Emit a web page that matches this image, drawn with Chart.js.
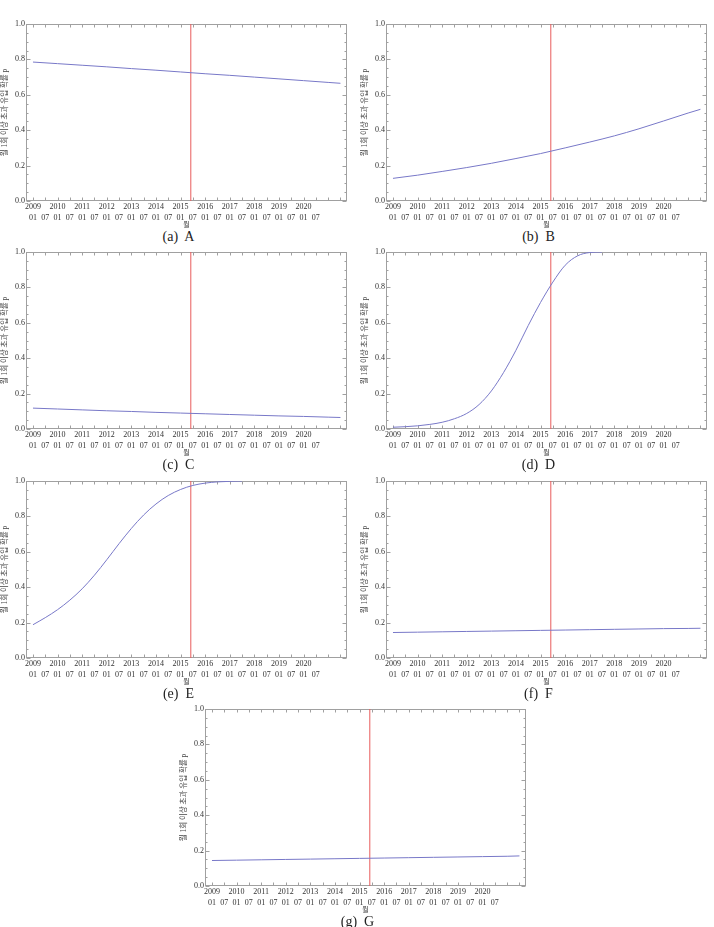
<!DOCTYPE html>
<html>
<head>
<meta charset="utf-8">
<script src="https://cdn.jsdelivr.net/npm/chart.js@4"></script>
<style>
  body { margin: 0; background: #fff; width: 714px; height: 927px; position: relative; overflow: hidden; }
  .panel { position: absolute; width: 357px; height: 250px; }
  .panel canvas { display: block; }
  .cap { position: absolute; left: 0; width: 357px; text-align: center; font-family: 'Liberation Serif', serif; font-size: 14px; color: #222; white-space: pre; line-height: 15px; }
</style>
</head>
<body>
<script>
// x values are months counted from 2009-01
const yearMonths = [0, 12, 24, 36, 48, 60, 72, 84, 96, 108, 120, 132, 144, 150];
const halfYearMonths = [0, 6, 12, 18, 24, 30, 36, 42, 48, 54, 60, 66, 72, 78, 84, 90, 96, 102];

const seriesA = [0.785, 0.776, 0.767, 0.758, 0.748, 0.739, 0.729, 0.719, 0.710, 0.700, 0.690, 0.680, 0.670, 0.665];
const seriesB = [0.128, 0.146, 0.167, 0.189, 0.213, 0.240, 0.268, 0.300, 0.333, 0.368, 0.408, 0.452, 0.497, 0.518];
const seriesC = [0.118, 0.113, 0.108, 0.103, 0.099, 0.094, 0.090, 0.086, 0.082, 0.078, 0.074, 0.071, 0.067, 0.065];
const seriesD = [0.010, 0.013, 0.018, 0.026, 0.038, 0.058, 0.088, 0.138, 0.215, 0.320, 0.445, 0.585, 0.715, 0.830, 0.925, 0.978, 0.997, 1.0];
const seriesE = [0.188, 0.228, 0.273, 0.327, 0.391, 0.468, 0.555, 0.646, 0.732, 0.808, 0.870, 0.918, 0.952, 0.975, 0.988, 0.995, 0.998, 1.0];
const seriesF = [0.144, 0.146, 0.148, 0.150, 0.152, 0.154, 0.156, 0.158, 0.160, 0.162, 0.164, 0.166, 0.167, 0.168];
const seriesG = [0.144, 0.146, 0.148, 0.150, 0.152, 0.154, 0.156, 0.158, 0.160, 0.162, 0.164, 0.166, 0.168, 0.170];

const markerMonth = 77;   // red vertical line, 2015-06

const yearLabels = ['2009', '2010', '2011', '2012', '2013', '2014', '2015', '2016', '2017', '2018', '2019', '2020'];
const monthLabels = ['01', '07'];
const labelMonths = [];
for (let m = 0; m <= 138; m += 6) labelMonths.push(m);
const frameMonths = [];
for (let m = 0; m <= 150; m += 6) frameMonths.push(m);
const yTicks = [0, 0.2, 0.4, 0.6, 0.8, 1.0];

const yTitle = '월 1회 이상 초과 유입 확률 p';
const xTitle = '월';

const serif = "'Liberation Serif', 'Noto Sans CJK KR', serif";
const krFont = "'Liberation Serif', 'Noto Sans CJK KR', sans-serif";

const frameTicks = {
    id: 'frameTicks',
    beforeDatasetsDraw(chart) {
        const { ctx, chartArea: a, scales: { x, y } } = chart;
        ctx.save();
        ctx.strokeStyle = '#a0a0a0';
        ctx.lineWidth = 1;
        const L = Math.round(a.left) + 0.5, R = Math.round(a.right) - 0.5;
        const T = Math.round(a.top) + 0.5, B = Math.round(a.bottom) - 0.5;
        ctx.strokeRect(L, T, R - L, B - T);
        ctx.beginPath();
        frameMonths.forEach(m => {
            const px = Math.round(x.getPixelForValue(m)) + 0.5;
            ctx.moveTo(px, T); ctx.lineTo(px, T + 3);
            ctx.moveTo(px, B); ctx.lineTo(px, B - 3);
        });
        for (let i = 0; i <= 20; i++) {
            const py = Math.round(y.getPixelForValue(i * 0.05)) + 0.5;
            const len = i % 4 === 0 ? 4 : 2;
            ctx.moveTo(L, py); ctx.lineTo(L + len, py);
            ctx.moveTo(R, py); ctx.lineTo(R - len, py);
        }
        ctx.stroke();
        ctx.restore();
    }
};

function buildPanel(left, top, caption, xs, ys) {
    const div = document.createElement('div');
    div.className = 'panel';
    div.style.left = left + 'px';
    div.style.top = top + 'px';
    const canvas = document.createElement('canvas');
    canvas.width = 357;
    canvas.height = 229;
    canvas.style.width = '357px';
    canvas.style.height = '229px';
    div.appendChild(canvas);
    const cap = document.createElement('div');
    cap.className = 'cap';
    cap.style.top = '229px';
    cap.textContent = caption;
    div.appendChild(cap);
    document.body.appendChild(div);

    new Chart(canvas, {
        type: 'line',
        data: {
            datasets: [{
                data: xs.map((m, i) => ({ x: m, y: ys[i] })),
                borderColor: 'rgb(120, 120, 200)',
                borderWidth: 1,
                pointRadius: 0,
                cubicInterpolationMode: 'monotone'
            }, {
                data: [{ x: markerMonth, y: 0 }, { x: markerMonth, y: 1 }],
                borderColor: 'rgb(232, 92, 92)',
                borderWidth: 1,
                pointRadius: 0
            }]
        },
        options: {
            responsive: false,
            animation: false,
            devicePixelRatio: 1,
            layout: { padding: { top: 24, right: 10, left: 0, bottom: 0 } },
            plugins: { legend: { display: false }, tooltip: { enabled: false } },
            scales: {
                x: {
                    type: 'linear',
                    min: -3.4,
                    max: 153.2,
                    grid: { display: false, drawTicks: false, tickLength: 0 },
                    border: { display: false },
                    afterBuildTicks: s => { s.ticks = labelMonths.map(v => ({ value: v })); },
                    afterFit: s => { s.height = 28; },
                    ticks: {
                        autoSkip: false,
                        maxRotation: 0,
                        minRotation: 0,
                        padding: 1,
                        color: '#333',
                        font: { family: serif, size: 8, lineHeight: 1.35 },
                        callback: v => v % 12 === 0 ? [yearLabels[v / 12], monthLabels[0]] : ['', monthLabels[1]]
                    },
                    title: {
                        display: true,
                        text: xTitle,
                        color: '#444',
                        padding: { top: 0, bottom: 0 },
                        font: { family: krFont, size: 7, lineHeight: 1.2 }
                    }
                },
                y: {
                    min: 0,
                    max: 1,
                    grid: { display: false, drawTicks: false, tickLength: 0 },
                    border: { display: false },
                    afterBuildTicks: s => { s.ticks = yTicks.map(v => ({ value: v })); },
                    afterFit: s => { s.width = 26; },
                    ticks: {
                        padding: 1,
                        color: '#333',
                        font: { family: serif, size: 8 },
                        callback: v => Number(v).toFixed(1)
                    },
                    title: {
                        display: true,
                        text: yTitle,
                        color: '#444',
                        padding: { top: 1, bottom: 0 },
                        font: { family: krFont, size: 7.5, lineHeight: 1.2 }
                    }
                }
            }
        },
        plugins: [frameTicks]
    });
}

buildPanel(0, 0, '(a)  A', yearMonths, seriesA);
buildPanel(360, 0, '(b)  B', yearMonths, seriesB);
buildPanel(0, 228, '(c)  C', yearMonths, seriesC);
buildPanel(360, 228, '(d)  D', halfYearMonths, seriesD);
buildPanel(0, 457, '(e)  E', halfYearMonths, seriesE);
buildPanel(360, 457, '(f)  F', yearMonths, seriesF);
buildPanel(179, 685, '(g)  G', yearMonths, seriesG);
</script>
</body>
</html>
